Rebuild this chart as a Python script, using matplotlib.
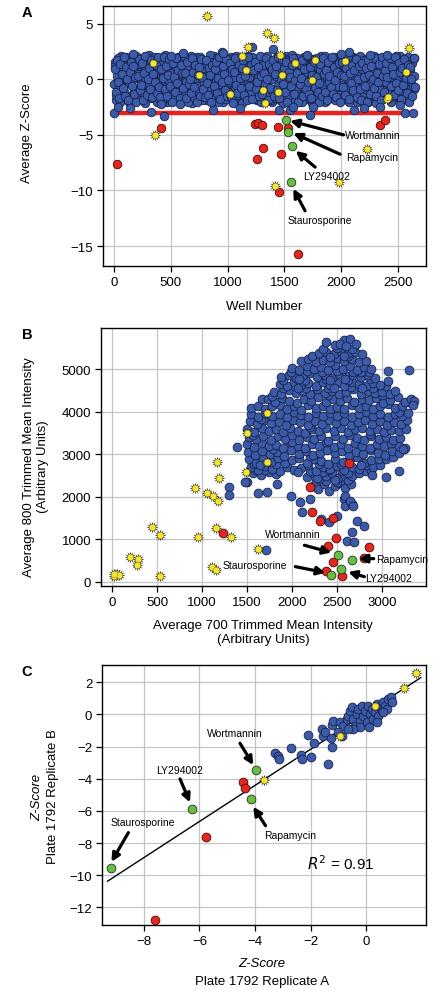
import numpy as np
import matplotlib.pyplot as plt

plt.rcParams['font.family'] = ['Liberation Sans', 'DejaVu Sans']

BLUE, BLUE_E = '#3b5ba9', '#17224a'
RED, RED_E = '#e3261f', '#4a0b08'
GREEN, GREEN_E = '#69bb48', '#1f3a12'
YELLOW = '#f3e532'

# ---------------- panel A : average z-score per well ----------------
# three interleaved passes over the plate (wells 5+10k, 0+10k, 7+10k)
a_blue = [
    1.2, -1.4, 0.3, 1.9, -0.6, -2.0, 0.9, 1.5, -1.1, 0.1, 2.0, -1.8, 0.6, -0.3, 1.7, -1.5, 0.0, 1.1, -0.9, 2.1,
    -1.9, 0.5, 1.4, -0.7, 1.8, -1.2, 0.2, -2.1, 1.0, 0.7, -0.4, 1.9, -1.6, 0.4, 1.3, -1.0, 2.0, -0.2, -1.7, 0.8,
    1.6, -0.8, -2.0, 0.3, 2.2, -1.3, 0.9, -0.1, 1.4, -1.8, 0.6, 1.9, -0.5, -1.5, 1.1, 0.0, 2.0, -1.1, 0.5, -1.9,
    0.8, 1.8, -1.4, -0.2, 1.2, -2.0, 0.4, 2.1, -0.9, 1.5, -1.6, 0.1, 1.7, -0.6, -1.2, 2.0, 0.7, -1.9, 1.0, -0.3,
    -1.5, 1.3, 0.2, -0.8, 2.2, -1.7, 0.9, 1.6, -1.0, -0.1, 1.9, -2.0, 0.5, 1.1, -0.4, -1.3, 2.0, 0.3, -1.8, 1.4,
    0.6, -1.1, 1.8, -1.9, 0.0, 1.2, -0.7, 2.1, -1.4, 0.8, -0.2, 1.5, -2.1, 0.4, 1.9, -0.9, -1.6, 1.0, 0.2, 1.7,
    -1.2, 2.0, -0.5, 0.7, -1.8, 1.4, 0.1, -1.0, 1.8, -2.0, 0.9, 1.3, -0.3, -1.5, 2.1, 0.5, -0.8, 1.6, -1.9, 0.0,
    1.1, -1.7, 0.3, 2.0, -0.6, -1.3, 1.5, 0.8, -2.1, 1.9, -0.1, 0.6, -1.0, 1.7, -1.6, 0.2, 2.2, -0.4, 1.0, -1.9,
    -0.7, 1.6, -1.5, 0.4, 1.2, -2.0, 0.0, 1.9, -1.1, 0.7, 2.0, -0.3, -1.8, 1.3, 0.5, -0.9, 1.8, -1.4, 0.1, 1.1,
    -2.0, 0.9, 1.7, -0.5, -1.2, 2.1, 0.3, -1.7, 1.0, -0.2, 1.5, -1.0, 0.6, 2.0, -1.9, 0.0, 1.3, -0.6, -1.4, 1.8,
    0.4, -1.6, 1.2, 2.0, -0.8, 0.1, -2.0, 1.6, 0.8, -1.1, 1.9, -0.4, -1.5, 0.5, 1.4, -1.8, 2.1, -0.1, 0.9, -1.3,
    1.7, -0.9, 0.2, -1.9, 1.1, 2.0, -0.3, -1.4, 0.7, 1.5, -2.1, 0.0, 1.9, -0.7, -1.0, 1.2, 0.4, -1.7, 2.0, -0.2,
    -1.1, 1.4, 0.6, -2.0, 1.8, -0.5, 0.9, -1.5, 2.1, 0.1, -0.8, 1.3, -1.9, 0.5, 1.7, -0.3, -1.2, 1.0, 2.0, -1.6,
    0.8, -1.4, 1.5, -0.6, 0.3,
]
a_blue2 = [
    -0.4, 1.6, -1.9, 0.8, 0.2, -1.2, 2.1, -0.7, 1.3, -1.6, 0.5, -0.1, 1.8, -2.0, 1.0, 0.3, -1.4, 1.5, -0.9, 0.7,
    2.0, -1.5, 0.0, 1.2, -0.6, 1.7, -1.8, 0.9, -0.3, 1.4, -1.1, 2.2, 0.4, -1.7, 0.1, 1.9, -0.8, 0.6, -2.0, 1.1,
    -1.0, 0.4, 1.7, -1.6, 0.8, -0.4, 1.3, -2.0, 0.2, 1.9, -1.3, 0.7, -0.9, 1.5, 0.0, -1.8, 1.1, 2.0, -0.5, 0.9,
    1.4, -0.1, -1.7, 1.9, -1.0, 0.6, 1.2, -1.4, 0.3, -2.1, 1.6, 0.9, -0.6, 2.0, -1.2, 0.5, -0.2, 1.0, -1.8, 1.5,
    0.1, -1.9, 1.0, 0.5, -1.3, 1.8, -0.4, 0.8, 2.1, -1.6, 0.3, -0.8, 1.4, -1.1, 0.7, 1.9, -2.0, 0.0, 1.2, -0.6,
    -1.7, 1.3, -0.2, 2.0, 0.6, -1.0, 1.6, -1.5, 0.4, 1.1, -0.7, -2.0, 1.8, 0.2, -1.3, 0.9, 1.5, -0.4, 2.1, -1.1,
    0.7, -0.6, 1.9, -1.2, 0.0, 1.4, -1.9, 1.0, -0.3, 0.5, 2.0, -1.6, 0.8, -1.0, 1.6, -0.1, -1.4, 1.2, 0.3, -2.0,
    1.5, 0.2, -1.3, 0.9, 1.8, -0.8, -1.9, 0.6, 1.3, -0.5, -1.5, 2.1, 0.1, -1.1, 1.0, 1.7, -0.7, -2.0, 0.4, 1.4,
    -0.2, 1.9, 0.8, -1.6, 0.3, 1.1, -1.2, 2.0, -0.6, -1.8, 1.5, 0.4, -0.9, 1.2, -2.1, 0.7, 1.8, -0.3, -1.4, 0.9,
    1.0, -1.3, 2.1, 0.2, -0.7, 1.6, -2.0, 0.5, 1.3, -1.0, 0.0, 1.8, -1.7, 0.8, -0.4, 1.4, -1.2, 2.0, 0.6, -1.9,
    -0.5, 1.2, -1.8, 0.7, 1.9, -1.1, 0.3, -0.2, 1.5, -1.5, 2.0, 0.1, -0.8, 1.7, -2.0, 0.9, -0.6, 1.1, -1.3, 0.4,
    1.8, -1.4, 0.5, 1.0, -2.0, 0.2, 1.6, -0.9, -1.2, 2.1, 0.8, -0.3, 1.3, -1.7, 0.0, 1.9, -0.5, -1.6, 1.2, 0.6,
    -1.3, 2.0, 0.1, -0.7, 1.4, -1.9, 0.9, 0.4, -1.0, 1.7, -0.2, -1.5, 2.1, 0.6, -0.9, 1.1, -1.8, 0.3, 1.6, -0.4,
    1.0, -1.7, 0.2, 1.8, -0.9,
]
a_blue3 = [
    0.9, -1.1, 1.7, -0.2, -1.7, 1.4, 0.5, -0.8, 2.0, -1.5, 1.1, 0.0, -1.9, 0.7, 1.6, -0.6, 1.2, -1.3, 0.2, -2.0,
    0.3, 1.8, -1.0, -0.5, 1.5, -1.9, 0.6, 2.1, -1.4, 0.0, 1.0, -0.9, 1.7, -1.6, 0.5, -0.2, 1.3, -1.2, 2.0, -0.7,
    -1.6, 0.9, 0.1, 2.0, -0.9, 1.2, -1.5, 0.4, 1.8, -0.6, -2.0, 1.5, 0.2, -1.1, 1.9, -0.3, 0.8, -1.7, 1.3, 0.6,
    -0.8, 2.1, 0.6, -1.7, 1.6, -0.4, 0.0, -1.2, 1.9, 0.7, -0.7, 1.3, -2.0, 0.4, 1.1, -1.5, 1.8, 0.2, -0.9, -1.6,
    1.7, -0.3, -1.4, 1.0, 0.4, -2.0, 1.3, -0.6, 0.9, 1.6, -1.2, 0.1, 2.0, -1.8, -0.2, 1.2, 0.5, -1.0, 1.8, -1.5,
    -0.1, 1.5, -1.6, 0.9, -2.1, 0.7, 1.9, -0.5, -1.2, 1.3, 0.1, -0.8, 1.0, 1.7, -1.4, 0.3, -1.9, 2.0, -0.6, 0.8,
    1.3, -1.8, 0.8, 1.6, -0.9, -0.2, 1.1, -1.5, 2.1, 0.3, -1.3, 0.6, -0.5, 1.9, 0.0, -1.9, 1.4, -0.8, 0.9, 1.7,
    -1.5, 0.5, 1.2, -1.0, 2.0, -1.7, 0.0, 1.8, -0.4, 1.0, -1.1, 1.6, -2.0, 0.7, 0.2, -0.6, 1.3, 1.9, -1.3, -0.1,
    0.6, -2.0, 1.4, -0.4, 0.1, 1.7, -1.5, 0.9, -0.9, 2.1, -0.2, -1.3, 1.1, -1.7, 0.4, 1.6, -0.7, 0.2, 1.9, -1.1,
    -0.3, 1.4, -1.5, 1.9, 0.5, -1.1, 0.8, -1.9, 1.6, 0.3, -0.7, 2.0, -1.3, 1.1, -0.1, -1.6, 0.7, 1.5, -2.0, 0.4,
    1.6, -0.7, 0.3, -1.4, 1.0, 2.1, -1.8, 0.6, -0.3, 1.3, -1.0, 0.8, 1.8, -1.6, 0.0, 1.2, -0.9, -1.9, 1.5, 0.2,
    -0.6, 1.0, -2.0, 1.7, 0.4, -1.3, 1.2, 0.0, -0.8, 1.9, -1.5, 0.6, -0.2, 1.4, -1.9, 2.0, 0.3, -1.1, 0.8, 1.5,
    0.2, -1.7, 1.9, -0.6, 1.1, 0.5, -1.4, 2.0, -0.3, -1.0, 1.5, 0.7, -1.8, 1.0, -0.5, 1.8, 0.1, -1.2, 1.3, -2.0,
    1.1, 0.0, -1.5, 1.9, -0.7,
]
a_wells = np.arange(len(a_blue)) * 10 + 5
a_wells2 = np.arange(len(a_blue2)) * 10
a_wells3 = np.arange(len(a_blue3)) * 10 + 7

a_blue_extra_w = [0, 35, 138, 330, 441, 418, 585, 603, 874, 947, 1218, 1403, 1450, 1726, 1756, 2065, 2109,
                  2565, 2632, 2638, 2197, 1550, 1580, 1109, 2403, 2344, 2520, 170, 500, 960, 1700, 2000, 2250]
a_blue_extra_z = [-3.05, -2.45, -2.6, -2.9, -3.26, -2.25, -2.25, 2.35, -2.8, 2.5, 2.9, 2.7, -2.75, -3.23, -2.45,
                  2.5, -2.75, -3.0, -3.0, 1.9, -2.6, -2.75, -2.45, -2.6, 2.2, -2.45, -2.3, 2.3, 2.1, 2.4, 2.2,
                  2.3, 2.2]

a_red_w = [26, 412, 1241, 1271, 1300, 1447, 1535, 1309, 1259, 1468, 1450, 1618, 2338, 2382]
a_red_z = [-7.6, -4.4, -4.0, -3.95, -4.1, -4.25, -4.4, -6.14, -7.2, -6.7, -10.1, -15.7, -4.13, -3.62]

a_star_w = [815, 341, 362, 747, 1021, 1129, 1182, 1159, 1312, 1329, 1347, 1412, 1462, 1441, 1479, 1421,
            1591, 1747, 1771, 2035, 1982, 2226, 2400, 2412, 2568, 2600]
a_star_z = [5.66, 1.5, -5.0, 0.36, -1.3, 2.1, 2.9, 0.84, -1.0, -2.15, 4.13, 3.68, 2.18, -1.1, 0.42, -9.58,
            1.5, -0.1, 1.74, 1.65, -9.25, -6.23, -1.8, -1.56, 0.69, 2.81]

names = ['Wortmannin', 'Rapamycin', 'LY294002', 'Staurosporine']
a_green_w = [1512, 1532, 1570, 1562]
a_green_z = [-3.68, -4.7, -6.0, -9.28]
a_cutoff = -3.0
a_cutoff_w = [0, 2650]

# ---------------- panel B : 700 vs 800 channel intensity ----------------
b_cloud_x = [
    2230, 2290, 2350, 2410, 2470, 2530, 2590, 2650, 2260, 2380, 2500, 2620,
    1560, 1650, 1740, 1820, 2160, 2230, 2300, 2370, 2440, 2510, 2580, 2660,
    2740, 2820, 2200, 2270, 2340, 2410, 2480, 2550, 2620, 1600, 1700, 2880,
    1540, 1620, 1700, 1780, 1860, 1940, 2020, 2100, 2180, 2260, 2340, 2420,
    2500, 2580, 2660, 2740, 2820, 2900, 2970, 1580, 1820, 2060, 2300, 2540,
    1520, 1600, 1680, 1760, 1840, 1920, 2000, 2080, 2160, 2240, 2320, 2400,
    2480, 2560, 2640, 2720, 2800, 2880, 2960, 3040, 3120, 1640, 2200, 2760,
    1510, 1590, 1670, 1750, 1830, 1910, 1990, 2070, 2150, 2230, 2310, 2390,
    2470, 2550, 2630, 2710, 2790, 2870, 2950, 3030, 3110, 3190, 3240, 1790,
    1500, 1580, 1660, 1740, 1820, 1900, 1980, 2060, 2140, 2220, 2300, 2380,
    2460, 2540, 2620, 2700, 2780, 2860, 2940, 3020, 3100, 3180, 3250, 2000,
    1520, 1600, 1680, 1760, 1840, 1920, 2000, 2080, 2160, 2240, 2320, 2400,
    2480, 2560, 2640, 2720, 2800, 2880, 2960, 3040, 3120, 3200, 1560, 2860,
    1500, 1580, 1660, 1740, 1820, 1900, 1980, 2060, 2140, 2220, 2300, 2380,
    2460, 2540, 2620, 2700, 2780, 2860, 2940, 3020, 3100, 3180, 3260, 2200,
    1530, 1610, 1690, 1770, 1850, 1930, 2010, 2090, 2170, 2250, 2330, 2410,
    2490, 2570, 2650, 2730, 2810, 2890, 2970, 3050, 3130, 3210, 3270, 1650,
    1540, 1620, 1700, 1780, 1860, 1940, 2020, 2100, 2180, 2260, 2340, 2420,
    2500, 2580, 2660, 2740, 2820, 2900, 2980, 3060, 3140, 3220, 3290, 3180,
    1540, 1620, 1700, 1780, 1860, 1940, 2020, 2100, 2180, 2260, 2340, 2420,
    2500, 2580, 2660, 2740, 2820, 2900, 2980, 3060, 3140, 3220, 3300, 1660,
    1730, 1810, 1890, 1970, 2050, 2130, 2210, 2290, 2370, 2450, 2530, 2610,
    2690, 2770, 2850, 2930, 3010, 3090, 3170, 3250, 3320, 1780, 2400, 3000,
    1800, 1880, 1960, 2040, 2120, 2200, 2280, 2360, 2440, 2520, 2600, 2680,
    2760, 2840, 2920, 3000, 3080, 3140, 1900, 2150, 2400, 2650, 2900, 3040,
    1860, 1940, 2020, 2100, 2180, 2260, 2340, 2420, 2500, 2580, 2660, 2740,
    2820, 2900, 2980, 3060, 1900, 2140, 2380, 2620, 2860, 2060, 2460, 2780,
    1880, 1960, 2040, 2120, 2200, 2280, 2360, 2440, 2520, 2600, 2680, 2760,
    2840, 2920, 1990, 2160, 2330, 2500, 2670, 2850, 2080, 2420, 2590, 2760,
    2000, 2080, 2160, 2240, 2320, 2400, 2480, 2560, 2640, 2720, 2800, 2880,
    2100, 2180, 2260, 2340, 2420, 2500, 2580, 2660, 2740, 2820, 2220, 2620,
    2300, 2380, 2460, 2540, 2620, 2700, 2780, 2340, 2500, 2660, 2420, 2580,
    2380, 2480, 2570, 2640, 2710, 2530, 2600,
]
b_cloud_y = [
    2250, 2180, 2300, 2130, 2260, 2330, 2200, 2300, 2360, 2380, 2340, 2390,
    2560, 2510, 2580, 2540, 2470, 2550, 2420, 2500, 2560, 2450, 2530, 2480,
    2560, 2600, 2610, 2450, 2590, 2620, 2400, 2600, 2570, 2620, 2630, 2640,
    2700, 2640, 2720, 2660, 2600, 2700, 2620, 2680, 2740, 2610, 2690, 2650,
    2720, 2640, 2700, 2660, 2740, 2690, 2760, 2780, 2770, 2590, 2780, 2780,
    2880, 2800, 2900, 2830, 2910, 2790, 2870, 2920, 2800, 2890, 2850, 2780,
    2900, 2820, 2880, 2930, 2800, 2860, 2900, 2880, 2940, 2760, 2960, 2760,
    3060, 2990, 3080, 3000, 3050, 2970, 3100, 3010, 3070, 2980, 3040, 3110,
    3020, 3090, 2980, 3060, 3000, 3100, 3030, 2990, 3070, 3040, 3120, 3130,
    3240, 3170, 3260, 3190, 3230, 3150, 3280, 3200, 3160, 3250, 3190, 3280,
    3180, 3240, 3160, 3270, 3200, 3150, 3250, 3190, 3260, 3200, 3140, 3300,
    3400, 3350, 3440, 3330, 3420, 3370, 3450, 3340, 3410, 3360, 3440, 3320,
    3420, 3350, 3450, 3380, 3330, 3430, 3360, 3410, 3340, 3390, 3460, 3480,
    3600, 3530, 3610, 3550, 3590, 3520, 3620, 3560, 3510, 3600, 3540, 3630,
    3550, 3610, 3520, 3590, 3630, 3540, 3600, 3520, 3580, 3540, 3600, 3650,
    3780, 3710, 3800, 3730, 3770, 3700, 3810, 3750, 3690, 3790, 3720, 3800,
    3730, 3790, 3700, 3770, 3810, 3720, 3780, 3700, 3760, 3720, 3800, 3830,
    3960, 3890, 3980, 3910, 3950, 3880, 3990, 3930, 3870, 3970, 3900, 3980,
    3910, 3970, 3880, 3950, 3990, 3900, 3960, 3880, 3940, 3900, 3970, 4000,
    4080, 4150, 4060, 4130, 4170, 4070, 4140, 4050, 4160, 4090, 4140, 4060,
    4120, 4060, 4170, 4090, 4150, 4070, 4130, 4180, 4080, 4150, 4230, 4300,
    4300, 4240, 4330, 4260, 4220, 4310, 4250, 4340, 4230, 4300, 4260, 4330,
    4240, 4310, 4270, 4330, 4220, 4290, 4350, 4240, 4300, 4380, 4400, 4400,
    4480, 4420, 4510, 4440, 4490, 4410, 4530, 4450, 4500, 4420, 4480, 4540,
    4430, 4500, 4440, 4470, 4420, 4500, 4560, 4560, 4570, 4580, 4560, 4620,
    4660, 4610, 4700, 4630, 4680, 4600, 4710, 4640, 4690, 4620, 4700, 4650,
    4610, 4690, 4640, 4720, 4740, 4760, 4770, 4750, 4780, 4560, 4570, 4560,
    4820, 4880, 4800, 4860, 4910, 4820, 4870, 4800, 4900, 4840, 4880, 4810,
    4860, 4800, 4950, 4960, 4940, 4970, 4950, 4930, 4770, 4760, 4780, 4950,
    5040, 4990, 5080, 5010, 5060, 4980, 5100, 5020, 5070, 4990, 5050, 5010,
    5200, 5250, 5170, 5230, 5180, 5260, 5190, 5240, 5170, 5200, 5310, 5320,
    5380, 5420, 5360, 5430, 5390, 5410, 5370, 5480, 5500, 5490, 5300, 5310,
    5650, 5580, 5690, 5710, 5610, 5600, 5560,
]
b_tail_x = [1299, 1299, 1388, 1617, 1720, 1832, 1987, 2090, 2109, 2201, 2323, 2405, 2494, 2572, 2583, 2664,
            2720, 2794, 2664, 2609, 2683, 1709, 1499, 2886, 3042, 3190, 3293, 3064, 3348, 3226, 1480, 2590,
            2646, 2671, 3337]
b_tail_y = [2220, 2039, 3181, 2087, 2102, 2299, 2008, 1866, 1630, 1945, 1488, 1394, 1551, 1945, 1787, 1827,
            1433, 1300, 1173, 961, 937, 748, 2339, 2520, 2457, 2606, 4992, 4961, 4268, 3126, 2346, 2008,
            1906, 1787, 4165]

b_red_x = [1232, 2631, 2201, 2220, 2312, 2453, 2486, 2394, 2449, 2379, 2553, 2849, 2794]
b_red_y = [1157, 2795, 2236, 1646, 1433, 1496, 1039, 843, 472, 252, 134, 811, 567]

b_star_x = [18, 55, 81, 18, 196, 285, 278, 444, 537, 533, 918, 955, 1058, 1117, 1177, 1166, 1188, 1155,
            1114, 1158, 1325, 1617, 1491, 1499, 1720, 1720]
b_star_y = [134, 189, 150, 181, 591, 528, 394, 1291, 1094, 134, 2205, 1055, 2087, 2024, 1906, 2827, 2433,
            1276, 346, 276, 1063, 780, 2575, 3496, 3976, 2827]

b_green_x = [2505, 2664, 2542, 2435]
b_green_y = [638, 504, 291, 165]

# ---------------- panel C : replicate A vs replicate B ----------------
c_blue_x = [-3.28, -3.16, -3.12, -2.70, -2.34, -2.32, -2.08, -1.98, -1.86, -1.60, -1.56, -1.38, -1.24, -1.26,
            -1.48, -1.24, -1.18, -0.94, -0.82, -0.70, -0.64, -0.58, -0.52, -0.46, -0.40, -0.34, -0.28, -0.22,
            -0.22, -0.16, -0.10, -0.04, 0.02, 0.08, 0.12, 0.14, 0.20, 0.26, 0.32, 0.38, 0.44, 0.50, 0.56, 0.62,
            0.68, 0.74, 0.80, 0.89, 0.92, 0.62, 0.38, -0.46, -0.64, -0.88, -1.00]
c_blue_y = [-2.40, -2.57, -2.77, -2.11, -2.53, -2.77, -1.26, -2.67, -1.80, -0.90, -1.32, -3.08, -2.05, -1.48,
            -1.11, -0.66, -0.38, -0.45, -0.70, -0.28, -0.07, 0.24, 0.44, -0.28, -0.70, 0.03, 0.34, -0.38,
            -0.80, 0.55, -0.07, 0.24, -0.49, 0.55, -0.80, 0.03, 0.34, -0.28, 0.13, 0.65, -0.07, 0.44, 0.24, 0.76,
            0.55, 0.34, 0.96, 1.07, 0.76, 0.13, -0.49, -0.90, -0.90, -1.32, -1.11]
c_red_x = [-7.60, -5.78, -4.43, -4.35]
c_red_y = [-12.77, -7.65, -4.22, -4.60]
c_star_x = [1.79, 1.35, 0.31, -0.94, -3.68]
c_star_y = [2.58, 1.67, 0.54, -1.36, -4.06]
c_green_x = [-3.96, -4.16, -6.28, -9.17]
c_green_y = [-3.43, -5.26, -5.90, -9.56]
c_fit_x = [-9.31, 1.97]
c_fit_slope, c_fit_int = 1.123, 0.08
c_r2 = 0.91

W, H = 446, 995
fig = plt.figure(figsize=(W / 100, H / 100), dpi=100)


def px_axes(l, t, r, b):
    return fig.add_axes([l / W, 1 - b / H, (r - l) / W, (b - t) / H])


def ftext(x, y, s, **kw):
    fig.text(x / W, 1 - y / H, s, ha='center', va='center', **kw)


def style(ax):
    ax.grid(True, color='#c4c4c4', lw=0.9)
    ax.set_axisbelow(True)
    ax.tick_params(direction='out', length=4, width=0.9, labelsize=9.5, pad=3)
    for sp in ax.spines.values():
        sp.set_linewidth(1.0)


def dots(ax, x, y, fc, ec, s=38, z=3):
    ax.scatter(x, y, s=s, c=fc, edgecolors=ec, linewidths=0.6, zorder=z)


def stars(ax, x, y):
    ax.scatter(x, y, s=72, marker=(12, 1, 0), c='#2c2a20', linewidths=0, zorder=6)
    ax.scatter(x, y, s=24, marker='o', c=YELLOW, edgecolors='#6a6420', linewidths=0.3, zorder=7)


def arrow(ax, tail, head):
    ax.annotate('', xy=head, xytext=tail,
                arrowprops=dict(arrowstyle='-|>', color='k', lw=2.3, mutation_scale=12,
                                shrinkA=0, shrinkB=0), zorder=8)


# ---- A ----
ax = px_axes(103, 7, 426, 267)
style(ax)
ax.plot(a_cutoff_w, [a_cutoff, a_cutoff], color='#e8221c', lw=3.2, zorder=2, solid_capstyle='butt')
dots(ax, a_wells2, a_blue2, BLUE, BLUE_E)
dots(ax, a_wells, a_blue, BLUE, BLUE_E)
dots(ax, a_wells3, a_blue3, BLUE, BLUE_E)
dots(ax, a_blue_extra_w, a_blue_extra_z, BLUE, BLUE_E)
dots(ax, a_red_w, a_red_z, RED, RED_E, z=4)
dots(ax, a_green_w, a_green_z, GREEN, GREEN_E, z=5)
stars(ax, a_star_w, a_star_z)
a_txt = [(2035, -5.0), (2041, -7.0), (1668, -8.74), (1526, -12.7)]
a_arr = [((2021, -5.0), (1550, -3.74)), ((1991, -6.74), (1579, -4.85)),
         ((1771, -7.9), (1600, -6.44)), ((1682, -11.83), (1579, -9.85))]
for nm, (tx, ty), (t, h) in zip(names, a_txt, a_arr):
    ax.text(tx, ty, nm, fontsize=7.5, ha='left', va='center', zorder=9)
    arrow(ax, t, h)
ax.set_xlim(-97, 2747)
ax.set_ylim(-16.8, 6.6)
ax.set_xticks([0, 500, 1000, 1500, 2000, 2500])
ax.set_yticks([-15, -10, -5, 0, 5])
ftext(27, 133, 'Average Z-Score', rotation=90, fontsize=9.5)
ftext(264, 307, 'Well Number', fontsize=9.5)
ftext(27, 13, 'A', fontsize=10.5, fontweight='bold')

# ---- B ----
ax = px_axes(101, 329, 426, 587)
style(ax)
dots(ax, b_cloud_x, b_cloud_y, BLUE, BLUE_E, s=40)
dots(ax, b_tail_x, b_tail_y, BLUE, BLUE_E, s=40)
dots(ax, b_red_x, b_red_y, RED, RED_E, s=40, z=4)
dots(ax, b_green_x, b_green_y, GREEN, GREEN_E, s=40, z=5)
stars(ax, b_star_x, b_star_y)
b_txt = [(1702, 1118), (2927, 528), (2812, 94), (1232, 394)]
b_arr = [((2135, 858), (2435, 685)), ((2905, 543), (2738, 543)),
         ((2801, 118), (2620, 228)), ((2035, 354), (2368, 213))]
for nm, (tx, ty), (t, h) in zip(names, b_txt, b_arr):
    ax.text(tx, ty, nm, fontsize=7.5, ha='left', va='center', zorder=9)
    arrow(ax, t, h)
ax.set_xlim(-122, 3485)
ax.set_ylim(-102, 5976)
ax.set_xticks([0, 500, 1000, 1500, 2000, 2500, 3000])
ax.set_yticks([0, 1000, 2000, 3000, 4000, 5000])
ftext(36, 467, 'Average 800 Trimmed Mean Intensity\n(Arbitrary Units)', rotation=90, fontsize=9.5,
      linespacing=1.15)
ftext(263, 633, 'Average 700 Trimmed Mean Intensity\n(Arbitrary Units)', fontsize=9.5, linespacing=1.15)
ftext(27, 335, 'B', fontsize=10.5, fontweight='bold')

# ---- C ----
ax = px_axes(102, 666, 426, 926)
style(ax)
fx = np.array(c_fit_x)
ax.plot(fx, c_fit_slope * fx + c_fit_int, color='k', lw=1.0, zorder=2.5)
dots(ax, c_blue_x, c_blue_y, BLUE, BLUE_E, s=40)
dots(ax, c_red_x, c_red_y, RED, RED_E, s=40, z=4)
dots(ax, c_green_x, c_green_y, GREEN, GREEN_E, s=40, z=5)
stars(ax, c_star_x, c_star_y)
c_txt = [(-4.72, -1.16), (-2.74, -7.5), (-6.70, -3.43), (-8.05, -6.72)]
c_arr = [((-4.54, -1.79), (-4.06, -3.15)), ((-3.62, -6.92), (-4.06, -5.74)),
         ((-6.70, -4.01), (-6.34, -5.47)), ((-8.56, -7.35), (-9.17, -9.17))]
for nm, (tx, ty), (t, h) in zip(names, c_txt, c_arr):
    ax.text(tx, ty, nm, fontsize=7.5, ha='center', va='center', zorder=9)
    arrow(ax, t, h)
ax.text(-2.14, -9.2, '$R^2$ = %.2f' % c_r2, fontsize=11, ha='left', va='center')
ax.set_xlim(-9.51, 2.16)
ax.set_ylim(-13.1, 3.08)
ax.set_xticks([-8, -6, -4, -2, 0])
ax.set_yticks([-12, -10, -8, -6, -4, -2, 0, 2])
ftext(37, 797, 'Z-Score', rotation=90, fontsize=9.5, style='italic')
ftext(53, 797, 'Plate 1792 Replicate B', rotation=90, fontsize=9.5)
ftext(262, 964, 'Z-Score', fontsize=9.5, style='italic')
ftext(262, 982, 'Plate 1792 Replicate A', fontsize=9.5)
ftext(27, 672, 'C', fontsize=10.5, fontweight='bold')

fig.savefig('out.png', dpi=100)
